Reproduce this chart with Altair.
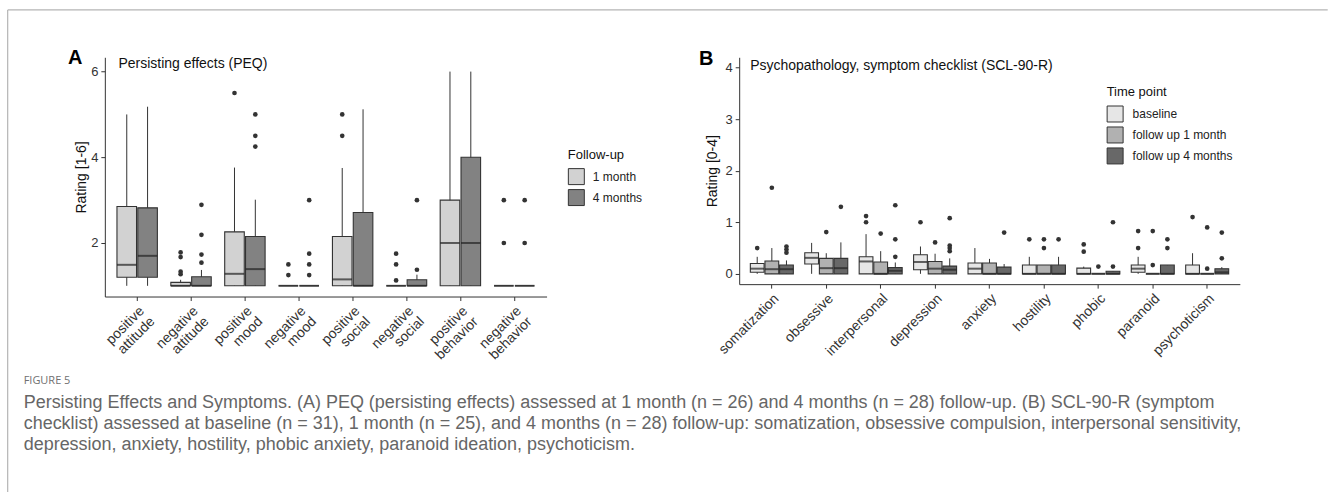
import altair as alt
import pandas as pd

# ---------------- Panel A: Persisting effects (PEQ) ----------------
A_cats = ["positive attitude", "negative attitude", "positive mood", "negative mood",
          "positive social", "negative social", "positive behavior", "negative behavior"]
A_groups = ["1 month", "4 months"]
A_colors = ["#d2d2d2", "#828282"]

A_low_1m = [1.0, 1.0, 1.0, 1.0, 1.0, 1.0, 1.0, 1.0]
A_q1_1m = [1.2, 1.0, 1.0, 1.0, 1.0, 1.0, 1.0, 1.0]
A_med_1m = [1.49, 1.0, 1.28, 1.0, 1.15, 1.0, 2.0, 1.0]
A_q3_1m = [2.85, 1.08, 2.26, 1.0, 2.15, 1.0, 3.0, 1.0]
A_up_1m = [5.0, 1.14, 3.76, 1.0, 3.75, 1.0, 6.0, 1.0]

A_low_4m = [1.0, 1.0, 1.0, 1.0, 1.0, 1.0, 1.0, 1.0]
A_q1_4m = [1.2, 1.0, 1.0, 1.0, 1.0, 1.0, 1.0, 1.0]
A_med_4m = [1.70, 1.0, 1.39, 1.0, 1.0, 1.0, 2.0, 1.0]
A_q3_4m = [2.82, 1.21, 2.15, 1.0, 2.71, 1.14, 4.0, 1.0]
A_up_4m = [5.18, 1.37, 3.01, 1.0, 5.12, 1.26, 6.0, 1.0]

A_out_1m = {"negative attitude": [1.78, 1.67, 1.33, 1.27], "positive mood": [5.5],
            "negative mood": [1.5, 1.25], "positive social": [5.0, 4.5],
            "negative social": [1.75, 1.5, 1.125], "negative behavior": [3.0, 2.0]}
A_out_4m = {"negative attitude": [2.89, 2.19, 1.73, 1.54], "positive mood": [5.0, 4.5, 4.25],
            "negative mood": [3.0, 1.75, 1.5, 1.25], "negative social": [3.0, 1.375],
            "negative behavior": [3.0, 2.0]}

# ---------------- Panel B: SCL-90-R ----------------
B_cats = ["somatization", "obsessive", "interpersonal", "depression", "anxiety",
          "hostility", "phobic", "paranoid", "psychoticism"]
B_groups = ["baseline", "follow up 1 month", "follow up 4 months"]
B_colors = ["#e6e6e6", "#b1b1b1", "#686868"]

B_low_base = [0.0, 0.0, 0.0, 0.0, 0.0, 0.0, 0.0, 0.0, 0.0]
B_q1_base = [0.03, 0.19, 0.0, 0.08, 0.0, 0.0, 0.0, 0.03, 0.0]
B_med_base = [0.10, 0.31, 0.24, 0.23, 0.10, 0.0, 0.0, 0.10, 0.0]
B_q3_base = [0.20, 0.41, 0.33, 0.37, 0.21, 0.17, 0.11, 0.17, 0.17]
B_up_base = [0.33, 0.60, 0.77, 0.53, 0.50, 0.33, 0.14, 0.33, 0.40]

B_low_1m = [0.0, 0.0, 0.0, 0.0, 0.0, 0.0, 0.0, 0.0, 0.0]
B_q1_1m = [0.0, 0.0, 0.0, 0.0, 0.0, 0.0, 0.0, 0.0, 0.0]
B_med_1m = [0.09, 0.11, 0.0, 0.10, 0.0, 0.0, 0.0, 0.0, 0.0]
B_q3_1m = [0.25, 0.30, 0.23, 0.24, 0.21, 0.17, 0.0, 0.0, 0.0]
B_up_1m = [0.50, 0.40, 0.44, 0.39, 0.29, 0.17, 0.0, 0.0, 0.0]

B_low_4m = [0.0, 0.0, 0.0, 0.0, 0.0, 0.0, 0.0, 0.0, 0.0]
B_q1_4m = [0.0, 0.0, 0.0, 0.0, 0.0, 0.0, 0.0, 0.0, 0.0]
B_med_4m = [0.09, 0.11, 0.06, 0.08, 0.0, 0.0, 0.0, 0.0, 0.03]
B_q3_4m = [0.17, 0.30, 0.12, 0.15, 0.13, 0.17, 0.05, 0.17, 0.10]
B_up_4m = [0.26, 0.61, 0.22, 0.30, 0.19, 0.33, 0.05, 0.17, 0.13]

B_out_base = {"somatization": [0.5], "interpersonal": [1.12, 1.0], "depression": [1.0],
              "hostility": [0.67], "phobic": [0.57, 0.43], "paranoid": [0.83, 0.5],
              "psychoticism": [1.1]}
B_out_1m = {"somatization": [1.67], "obsessive": [0.81], "interpersonal": [0.78],
            "depression": [0.61], "hostility": [0.67, 0.5], "phobic": [0.14],
            "paranoid": [0.83, 0.17], "psychoticism": [0.9, 0.1]}
B_out_4m = {"somatization": [0.53, 0.47, 0.41], "obsessive": [1.3],
            "interpersonal": [1.33, 0.67, 0.33], "depression": [1.08, 0.55, 0.5, 0.44],
            "anxiety": [0.8], "hostility": [0.67], "phobic": [1.0, 0.14],
            "paranoid": [0.67, 0.5], "psychoticism": [0.8, 0.3]}

caption_head = "FIGURE 5"
caption_lines = [
    "Persisting Effects and Symptoms. (A) PEQ (persisting effects) assessed at 1 month (n = 26) and 4 months (n = 28) follow-up. (B) SCL-90-R (symptom",
    "checklist) assessed at baseline (n = 31), 1 month (n = 25), and 4 months (n = 28) follow-up: somatization, obsessive compulsion, interpersonal sensitivity,",
    "depression, anxiety, hostility, phobic anxiety, paranoid ideation, psychoticism.",
]

FONT = "Liberation Sans"


def box_frame(cats, groups, stats):
    rows = []
    for g, (lo, q1, md, q3, up) in zip(groups, stats):
        for i, c in enumerate(cats):
            rows.append({"cat": c, "grp": g, "low": lo[i], "q1": q1[i], "med": md[i],
                         "q3": q3[i], "up": up[i]})
    return pd.DataFrame(rows)


def out_frame(groups, outs):
    rows = []
    for g, d in zip(groups, outs):
        for c, vals in d.items():
            for v in vals:
                rows.append({"cat": c, "grp": g, "value": v})
    return pd.DataFrame(rows)


def panel(cats, groups, colors, boxes, outs, ydom, yvals, ytitle, ytp, pi, po,
          width, multiline, legend):
    step = width / (len(cats) - pi + 2 * po)
    band = step * (1 - pi)
    opad = 0.06
    tick_size = band / (len(groups) - opad) * (1 - opad)
    xaxis = alt.Axis(title=None, labelAngle=-45, labelAlign="right", labelBaseline="top",
                     labelFontSize=14, labelColor="#333333", labelPadding=3, tickSize=4,
                     labelLineHeight=15, zindex=2,
                     **({"labelExpr": "split(datum.label, ' ')"} if multiline else {}))
    xs = alt.Scale(type="band", domain=cats, paddingInner=pi, paddingOuter=po)
    x = alt.X("cat:N", scale=xs, axis=xaxis)
    xo = alt.XOffset("grp:N", scale=alt.Scale(type="band", domain=groups, paddingInner=opad,
                                              paddingOuter=0))
    ys = alt.Scale(domain=ydom, nice=False, zero=False)
    yaxis = alt.Axis(values=yvals, title=ytitle, grid=False, labelFontSize=13,
                     labelColor="#333333", labelPadding=3, tickSize=4, titleFontSize=14,
                     titleFontWeight="normal", titleColor="#111111", titlePadding=ytp,
                     zindex=2)

    def Y(f):
        return alt.Y(f"{f}:Q", scale=ys, axis=yaxis)

    base = alt.Chart(boxes)
    whisk = base.mark_rule(color="#333333", strokeWidth=1).encode(
        x=x, xOffset=xo, y=Y("low"), y2="up:Q")
    bars = base.mark_bar(stroke="#333333", strokeWidth=1.1).encode(
        x=x, xOffset=xo, y=Y("q1"), y2="q3:Q",
        fill=alt.Fill("grp:N", scale=alt.Scale(domain=groups, range=colors), legend=legend))
    meds = base.mark_tick(color="#222222", thickness=2, size=tick_size).encode(
        x=x, xOffset=xo, y=Y("med"))
    pts = alt.Chart(outs).mark_point(filled=True, size=22, color="#333333", opacity=1).encode(
        x=x, xOffset=xo, y=Y("value"))
    return [whisk, bars, meds, pts]


def txt(t, x, y, **kw):
    return alt.Chart(pd.DataFrame({"t": [t]})).mark_text(**kw).encode(
        text="t:N", x=alt.value(x), y=alt.value(y))


def line(color, width, **enc):
    return alt.Chart(pd.DataFrame({"t": [0]})).mark_rule(color=color, strokeWidth=width).encode(
        **{k: alt.value(v) for k, v in enc.items()})


# geometry (pixels)
A_left, A_top, A_w, A_h = 104.3, 56.4, 442.4, 239.6
B_left, B_w, B_h = 739.0, 501.4, 227.2
W, H = 1329, 492

boxesA = box_frame(A_cats, A_groups, [(A_low_1m, A_q1_1m, A_med_1m, A_q3_1m, A_up_1m),
                                      (A_low_4m, A_q1_4m, A_med_4m, A_q3_4m, A_up_4m)])
outsA = out_frame(A_groups, [A_out_1m, A_out_4m])
boxesB = box_frame(B_cats, B_groups, [(B_low_base, B_q1_base, B_med_base, B_q3_base, B_up_base),
                                      (B_low_1m, B_q1_1m, B_med_1m, B_q3_1m, B_up_1m),
                                      (B_low_4m, B_q1_4m, B_med_4m, B_q3_4m, B_up_4m)])
outsB = out_frame(B_groups, [B_out_base, B_out_1m, B_out_4m])

leg_kw = dict(orient="none", titleFontSize=13, titleFontWeight="normal", titleColor="#111111",
              labelFontSize=12, labelColor="#222222", symbolType="square",
              symbolSize=256, symbolStrokeColor="#333333", symbolStrokeWidth=1,
              rowPadding=0, padding=0)
legA = alt.Legend(legendX=463.7, legendY=92.0, title="Follow-up", titlePadding=6,
                  labelOffset=8, **leg_kw)
legB = alt.Legend(legendX=368.0, legendY=28.8, title="Time point", titlePadding=6.5,
                  labelOffset=9, **leg_kw)

layersA = panel(A_cats, A_groups, A_colors, boxesA, outsA, [0.75, 6.334], [2, 4, 6],
                "Rating [1-6]", 2, 0.25, 0.225, A_w, True, legA)
layersB = panel(B_cats, B_groups, B_colors, boxesB, outsB, [-0.2, 4.2], [0, 1, 2, 3, 4],
                "Rating [0-4]", 5, 0.21, 0.205, B_w, False, legB)

# page frame + invisible (white) edges that fix the page bounds, in panel A's coordinates
edge_left = line("#ffffff", 1, x=0.5 - A_left, y=-A_top, y2=H - A_top)
edge_bottom = line("#ffffff", 1, y=H - 0.5 - A_top, x=-A_left, x2=W - A_left)
edge_top = line("#ffffff", 1, y=0.5 - A_top, x=-A_left, x2=W - A_left)
frame_left = line("#b4b4b4", 1.2, x=7 - A_left, y=9 - A_top, y2=H - A_top)
frame_top = line("#b4b4b4", 1.2, y=9 - A_top, x=7 - A_left, x2=W - A_left)

cap_kw = dict(align="left", baseline="middle", font=FONT, fontSize=18, color="#666666")
caption = [txt(caption_head, 23 - A_left, 381 - A_top, align="left", baseline="middle",
               font="Open Sans", fontSize=11, color="#707070")]
for i, ln in enumerate(caption_lines):
    caption.append(txt(ln, 23 - A_left, 403 + 21 * i - A_top, **cap_kw))

labA = txt("A", 74.5 - A_left, 57.5 - A_top, align="center", baseline="middle", font=FONT,
           fontSize=20, fontWeight="bold", color="#000000")
titA = txt("Persisting effects (PEQ)", 118 - A_left, 63 - A_top, align="left", baseline="middle",
           font=FONT, fontSize=14, color="#111111")
labB = txt("B", 706 - B_left, 58 - A_top, align="center", baseline="middle", font=FONT,
           fontSize=20, fontWeight="bold", color="#000000")
titB = txt("Psychopathology, symptom checklist (SCL-90-R)", 750 - B_left, 65 - A_top,
           align="left", baseline="middle", font=FONT, fontSize=14, color="#111111")

chartA = alt.layer(*layersA, edge_left, edge_bottom, edge_top, frame_left, frame_top,
                   *caption, labA, titA).properties(width=A_w, height=A_h)
chartB = alt.layer(*layersB, labB, titB).properties(width=B_w, height=B_h)

chart = alt.hconcat(chartA, chartB, spacing=B_left - (A_left + A_w), bounds="flush",
                    padding=0).resolve_scale(
    x="independent", y="independent", xOffset="independent",
    fill="independent").configure_view(stroke=None).configure_axis(
    labelFont=FONT, titleFont=FONT, domainColor="#333333", tickColor="#333333",
    domainWidth=1, tickWidth=1).configure_legend(labelFont=FONT, titleFont=FONT)

chart.save("out.html", embed_options={"renderer": "svg", "actions": False})
